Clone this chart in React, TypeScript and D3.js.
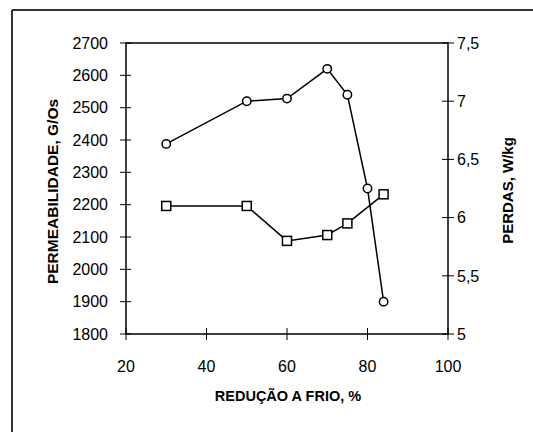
import React from "react";
import * as d3 from "d3";

const reducao = [30, 50, 60, 70, 75, 80, 84];
const permeabilidade = [2388, 2520, 2528, 2620, 2540, 2250, 1900];
const reducaoPerdas = [30, 50, 60, 70, 75, 84];
const perdas = [6.1, 6.1, 5.8, 5.85, 5.95, 6.2];
const xTicks = [20, 40, 60, 80, 100];
const leftTicks = [1800, 1900, 2000, 2100, 2200, 2300, 2400, 2500, 2600, 2700];
const rightTicks = [5, 5.5, 6, 6.5, 7, 7.5];
const rightTickLabels = ["5", "5,5", "6", "6,5", "7", "7,5"];
const xTitle = "REDUÇÃO A FRIO, %";
const leftTitle = "PERMEABILIDADE, G/Os";
const rightTitle = "PERDAS, W/kg";

const W = 533;
const H = 432;
const plot = { left: 126, right: 448, top: 43, bottom: 334 };
const FONT = "'Liberation Sans', Arial, sans-serif";

export default function App() {
  const x = d3.scaleLinear().domain([20, 100]).range([plot.left, plot.right]);
  const yL = d3.scaleLinear().domain([1800, 2700]).range([plot.bottom, plot.top]);
  const yR = d3.scaleLinear().domain([5, 7.5]).range([plot.bottom, plot.top]);

  const permPts: [number, number][] = reducao.map((r, i) => [x(r), yL(permeabilidade[i])]);
  const perdPts: [number, number][] = reducaoPerdas.map((r, i) => [x(r), yR(perdas[i])]);
  const line = d3.line();
  const sq = 9;
  const axisColor = "#000";
  const midY = (plot.top + plot.bottom) / 2;

  return (
    <svg
      width={W}
      height={H}
      style={{ position: "absolute", left: 0, top: 0, background: "#fff" }}
      fontFamily={FONT}
    >
      <rect x={0} y={0} width={W} height={H} fill="#fff" />
      {/* outer frame (top and left visible) */}
      <line x1={12} y1={10} x2={W} y2={10} stroke="#333" strokeWidth={2} />
      <line x1={12} y1={10} x2={12} y2={H} stroke="#333" strokeWidth={2} />

      {/* plot box */}
      <rect
        x={plot.left}
        y={plot.top}
        width={plot.right - plot.left}
        height={plot.bottom - plot.top}
        fill="none"
        stroke={axisColor}
        strokeWidth={1.5}
      />

      {/* left ticks */}
      {leftTicks.map((t) => (
        <g key={"l" + t}>
          <line x1={plot.left - 6} x2={plot.left + 5} y1={yL(t)} y2={yL(t)} stroke={axisColor} strokeWidth={1} />
          <text x={108} y={yL(t)} dy="0.36em" textAnchor="end" fontSize={16} fill="#000">
            {t}
          </text>
        </g>
      ))}
      {/* right ticks */}
      {rightTicks.map((t, i) => (
        <g key={"r" + t}>
          <line x1={plot.right - 6} x2={plot.right + 6} y1={yR(t)} y2={yR(t)} stroke={axisColor} strokeWidth={1} />
          <text x={457} y={yR(t)} dy="0.36em" textAnchor="start" fontSize={16} fill="#000">
            {rightTickLabels[i]}
          </text>
        </g>
      ))}
      {/* x ticks */}
      {xTicks.map((t) => (
        <g key={"x" + t}>
          <line x1={x(t)} x2={x(t)} y1={plot.bottom - 6} y2={plot.bottom + 6} stroke={axisColor} strokeWidth={1} />
          <text x={x(t)} y={372} textAnchor="middle" fontSize={16} fill="#000">
            {t}
          </text>
        </g>
      ))}

      {/* titles */}
      <text x={288} y={401} textAnchor="middle" fontSize={14.5} fontWeight="bold" fill="#000">
        {xTitle}
      </text>
      <text
        transform={`translate(58, ${midY + 3}) rotate(-90)`}
        textAnchor="middle"
        fontSize={15.5}
        fontWeight="bold"
        fill="#000"
      >
        {leftTitle}
      </text>
      <text
        transform={`translate(513, ${midY + 2}) rotate(-90)`}
        textAnchor="middle"
        fontSize={15}
        fontWeight="bold"
        fill="#000"
      >
        {rightTitle}
      </text>

      {/* series lines */}
      <path d={line(permPts) || ""} fill="none" stroke="#000" strokeWidth={1.5} />
      <path d={line(perdPts) || ""} fill="none" stroke="#000" strokeWidth={1.5} />

      {/* markers */}
      {permPts.map(([px, py], i) => (
        <circle key={"c" + i} cx={px} cy={py} r={4.2} fill="#fff" stroke="#000" strokeWidth={1.5} />
      ))}
      {perdPts.map(([px, py], i) => (
        <rect
          key={"s" + i}
          x={px - sq / 2}
          y={py - sq / 2}
          width={sq}
          height={sq}
          fill="#fff"
          stroke="#000"
          strokeWidth={1.5}
        />
      ))}
    </svg>
  );
}
